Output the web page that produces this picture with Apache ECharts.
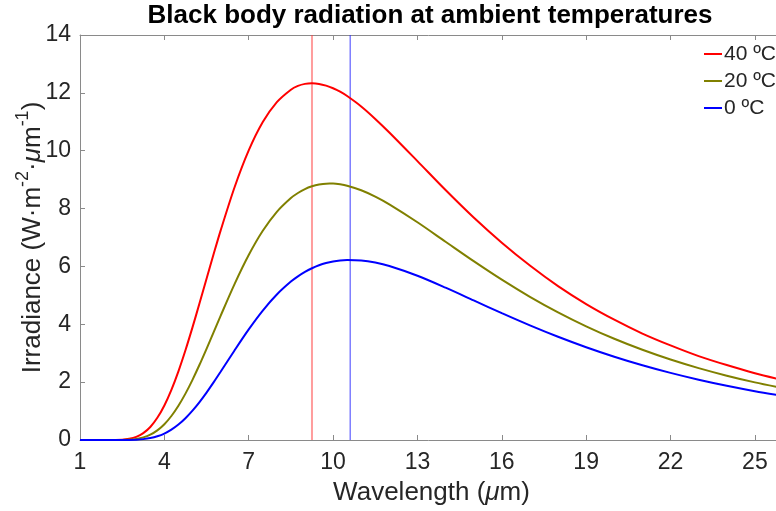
<!DOCTYPE html>
<html>
<head>
<meta charset="utf-8">
<script src="https://cdn.jsdelivr.net/npm/echarts@6/dist/echarts.min.js"></script>
<style>
html,body{margin:0;padding:0;background:#fff;}
#chart{width:776px;height:511px;}
</style>
</head>
<body>
<div id="chart"></div>
<script>
// ---- data ----
var wavelengths = [1, 1.5, 2, 2.5, 2.75, 3, 3.25, 3.5, 3.75, 4, 4.25, 4.5, 4.75, 5, 5.25, 5.5, 5.75, 6, 6.5, 7,
  7.5, 8, 8.5, 8.75, 9, 9.25, 9.5, 9.75, 10, 10.25, 10.5, 11, 11.5, 12,
  13, 14, 15, 16, 17, 18, 19, 20, 21, 22, 23, 24, 25, 26];
var irr40 = [0, 0, 0.0004, 0.013, 0.042, 0.109, 0.238, 0.451, 0.767, 1.194, 1.733, 2.375, 3.102, 3.893, 4.725, 5.574, 6.418, 7.239, 8.747, 10.01,
  10.99, 11.68, 12.11, 12.24, 12.31, 12.33, 12.31, 12.25, 12.16, 12.04, 11.89, 11.53, 11.10, 10.63,
  9.64, 8.64, 7.69, 6.82, 6.03, 5.32, 4.70, 4.16, 3.68, 3.27, 2.90, 2.59, 2.31, 2.07];
var irr20 = [0, 0, 0, 0.0036, 0.0134, 0.0385, 0.0907, 0.184, 0.332, 0.546, 0.829, 1.183, 1.603, 2.080, 2.600, 3.152, 3.720, 4.292, 5.398, 6.393,
  7.231, 7.888, 8.365, 8.538, 8.674, 8.769, 8.832, 8.862, 8.863, 8.838, 8.790, 8.634, 8.414, 8.147,
  7.527, 6.854, 6.183, 5.543, 4.951, 4.413, 3.930, 3.499, 3.118, 2.781, 2.484, 2.223, 1.992, 1.789];
var irr0 = [0, 0, 0, 0.0009, 0.0036, 0.0116, 0.0301, 0.066, 0.1275, 0.222, 0.356, 0.533, 0.752, 1.014, 1.312, 1.640, 1.991, 2.358, 3.105, 3.825,
  4.476, 5.030, 5.476, 5.656, 5.810, 5.937, 6.040, 6.118, 6.174, 6.209, 6.226, 6.208, 6.133, 6.013,
  5.678, 5.266, 4.826, 4.385, 3.963, 3.569, 3.208, 2.880, 2.584, 2.320, 2.084, 1.875, 1.688, 1.523];
var seriesNames = ['40 ºC', '20 ºC', '0 ºC'];
var peakWavelengths = [9.25, 10.61];   // vertical markers (40 ºC, 0 ºC)
var xTicks = [1, 4, 7, 10, 13, 16, 19, 22, 25];
var yTicks = [0, 2, 4, 6, 8, 10, 12, 14];
var titleText = 'Black body radiation at ambient temperatures';

// ---- chart ----
var FONT = '"Liberation Sans", Arial, Helvetica, sans-serif';
var TXT = '#262626';
var AX = '#8a8a8a';
var TICK_FS = 23, LABEL_FS = 26, TITLE_FS = 26;

function pairs(xs, ys) { return xs.map(function (x, i) { return [x, ys[i]]; }); }

var cvs = document.createElement('canvas').getContext('2d');
cvs.font = 'bold ' + TITLE_FS + 'px ' + FONT;
var titleW = cvs.measureText(titleText).width;
var titleCenter = 430;

var chart = echarts.init(document.getElementById('chart'), null, {renderer: 'canvas'});

var axisCommon = {
  axisLine: {show: true, onZero: false, lineStyle: {color: AX, width: 1}},
  splitLine: {show: false}
};

var option = {
  backgroundColor: '#ffffff',
  animation: false,
  title: {
    text: titleText,
    left: titleCenter - titleW / 2,
    top: 3,
    padding: 0,
    textStyle: {fontFamily: FONT, fontSize: TITLE_FS, fontWeight: 'bold', color: '#000'}
  },
  legend: {
    data: seriesNames,
    orient: 'vertical',
    left: 704,
    top: 43,
    padding: 0,
    icon: 'rect',
    itemWidth: 18,
    itemHeight: 2,
    itemGap: 5,
    textStyle: {fontFamily: FONT, fontSize: 21, lineHeight: 22, color: TXT, padding: [0, 0, 0, -3]}
  },
  grid: {left: 80, top: 35, width: 703, height: 405, containLabel: false, outerBoundsMode: 'none'},
  xAxis: [
    Object.assign({
      type: 'value', min: 1, max: 26, position: 'bottom',
      axisTick: {show: true, inside: true, length: 5, customValues: xTicks, lineStyle: {color: AX}},
      axisLabel: {customValues: xTicks, fontFamily: FONT, fontSize: TICK_FS, color: TXT, margin: 11},
      name: '{a|Wavelength (}{i|μ}{a|m)}',
      nameLocation: 'middle',
      nameGap: 40,
      nameTextStyle: {
        rich: {
          a: {fontFamily: FONT, fontSize: LABEL_FS, color: TXT},
          i: {fontFamily: FONT, fontSize: LABEL_FS, fontStyle: 'italic', color: TXT}
        }
      }
    }, axisCommon),
    Object.assign({
      type: 'value', min: 1, max: 26, position: 'top',
      axisTick: {show: true, inside: true, length: 5, customValues: xTicks, lineStyle: {color: AX}},
      axisLabel: {show: false}
    }, axisCommon)
  ],
  yAxis: [
    Object.assign({
      type: 'value', min: 0, max: 14, interval: 2, position: 'left',
      axisTick: {show: true, inside: true, length: 5, customValues: yTicks, lineStyle: {color: AX}},
      axisLabel: {customValues: yTicks, fontFamily: FONT, fontSize: TICK_FS, color: TXT, margin: 9},
      name: '{a|Irradiance (W·m}{s|-2}{a|·}{i|μ}{a|m}{s|-1}{a|)}',
      nameLocation: 'middle',
      nameGap: 34,
      nameMoveOverlap: false,
      nameRotate: 90,
      nameTextStyle: {
        rich: {
          a: {fontFamily: FONT, fontSize: LABEL_FS, color: TXT, lineHeight: 32, verticalAlign: 'bottom'},
          i: {fontFamily: FONT, fontSize: LABEL_FS, fontStyle: 'italic', color: TXT, lineHeight: 32, verticalAlign: 'bottom'},
          s: {fontFamily: FONT, fontSize: 18, color: TXT, lineHeight: 18, verticalAlign: 'top'}
        }
      }
    }, axisCommon),
    Object.assign({
      type: 'value', min: 0, max: 14, interval: 2, position: 'right',
      axisTick: {show: true, inside: true, length: 5, lineStyle: {color: AX}},
      axisLabel: {show: false}
    }, axisCommon)
  ],
  series: [
    {
      name: 'peak40', type: 'line', symbol: 'none', silent: true, z: 1,
      data: [[peakWavelengths[0], 0], [peakWavelengths[0], 14]],
      lineStyle: {color: 'rgba(255,60,60,0.5)', width: 2}
    },
    {
      name: 'peak0', type: 'line', symbol: 'none', silent: true, z: 1,
      data: [[peakWavelengths[1], 0], [peakWavelengths[1], 14]],
      lineStyle: {color: 'rgba(40,40,255,0.6)', width: 1.5}
    },
    {
      name: seriesNames[0], type: 'line', symbol: 'none', smooth: 0.3, z: 3,
      data: pairs(wavelengths, irr40), color: '#ff0000',
      lineStyle: {color: '#ff0000', width: 2}
    },
    {
      name: seriesNames[1], type: 'line', symbol: 'none', smooth: 0.3, z: 3,
      data: pairs(wavelengths, irr20), color: '#808000',
      lineStyle: {color: '#808000', width: 2}
    },
    {
      name: seriesNames[2], type: 'line', symbol: 'none', smooth: 0.3, z: 3,
      data: pairs(wavelengths, irr0), color: '#0000ff',
      lineStyle: {color: '#0000ff', width: 2}
    }
  ]
};
chart.setOption(option);
</script>
</body>
</html>
